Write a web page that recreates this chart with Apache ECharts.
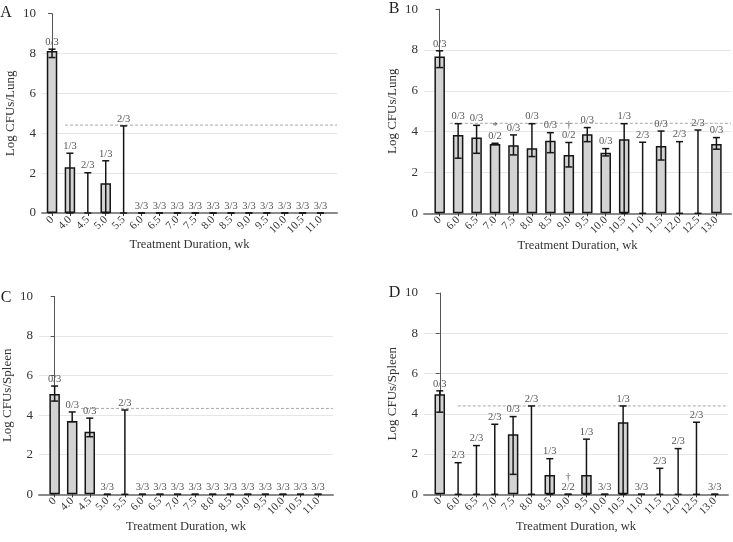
<!DOCTYPE html>
<html>
<head>
<meta charset="utf-8">
<script src="https://cdn.jsdelivr.net/npm/echarts@6/dist/echarts.min.js"></script>
<style>
	html, body { margin: 0; padding: 0; background: #fff; }
	#chart { width: 733px; height: 542px; }
</style>
</head>
<body>
<div id="chart"></div>
<script>
// panel A / C categories (weeks)
var catsA = ['0', '4.0', '4.5', '5.0', '5.5', '6.0', '6.5', '7.0', '7.5', '8.0', '8.5', '9.0', '9.5', '10.0', '10.5', '11.0'];
// panel B / D categories
var catsB = ['0', '6.0', '6.5', '7.0', '7.5', '8.0', '8.5', '9.0', '9.5', '10.0', '10.5', '11.0', '11.5', '12.0', '12.5', '13.0'];

// A: lung
var meanA = [8.13, 2.29, 0, 1.49, 0, 0, 0, 0, 0, 0, 0, 0, 0, 0, 0, 0];
var lowA = [7.80, 0, 0, 0, 0, 0, 0, 0, 0, 0, 0, 0, 0, 0, 0, 0];
var highA = [8.22, 3.00, 2.02, 2.62, 4.37, 0, 0, 0, 0, 0, 0, 0, 0, 0, 0, 0];
var fracA = ['0/3', '1/3', '2/3', '1/3', '2/3', '3/3', '3/3', '3/3', '3/3', '3/3', '3/3', '3/3', '3/3', '3/3', '3/3', '3/3'];
var markA = ['', '', '', '', '', '', '', '', '', '', '', '', '', '', '', ''];

// B: lung
var meanB = [7.68, 3.84, 3.71, 3.40, 3.33, 3.19, 3.56, 2.86, 3.87, 2.97, 3.63, 0, 3.30, 0, 0, 3.40];
var lowB = [7.14, 2.70, 2.94, 3.37, 2.86, 2.78, 2.97, 2.27, 3.51, 2.81, 0, 0, 2.61, 0, 0, 3.14];
var highB = [7.96, 4.39, 4.31, 3.43, 3.84, 4.39, 3.95, 3.47, 4.20, 3.17, 4.39, 3.48, 4.03, 3.51, 4.08, 3.71];
var fracB = ['0/3', '0/3', '0/3', '0/2', '0/3', '0/3', '0/3', '0/2', '0/3', '0/3', '1/3', '2/3', '0/3', '2/3', '2/3', '0/3'];
var markB = ['', '', '', '*', '', '', '', '\u2020', '', '', '', '', '', '', '', ''];

// C: spleen
var meanC = [5.07, 3.70, 3.16, 0, 0, 0, 0, 0, 0, 0, 0, 0, 0, 0, 0, 0];
var lowC = [4.71, 3.67, 2.91, 0, 0, 0, 0, 0, 0, 0, 0, 0, 0, 0, 0, 0];
var highC = [5.47, 4.16, 3.85, 0, 4.26, 0, 0, 0, 0, 0, 0, 0, 0, 0, 0, 0];
var fracC = ['0/3', '0/3', '0/3', '3/3', '2/3', '3/3', '3/3', '3/3', '3/3', '3/3', '3/3', '3/3', '3/3', '3/3', '3/3', '3/3'];
var markC = ['', '', '', '', '', '', '', '', '', '', '', '', '', '', '', ''];

// D: spleen
var meanD = [4.97, 0, 0, 0, 2.98, 0, 0.96, 0, 0.96, 0, 3.58, 0, 0, 0, 0, 0];
var lowD = [4.08, 0, 0, 0, 0.99, 0, 0, 0, 0, 0, 0, 0, 0, 0, 0, 0];
var highD = [5.14, 1.57, 2.42, 3.48, 3.86, 4.39, 1.77, 0, 2.74, 0, 4.39, 0, 1.29, 2.27, 3.58, 0];
var fracD = ['0/3', '2/3', '2/3', '2/3', '0/3', '2/3', '1/3', '2/2', '1/3', '3/3', '1/3', '3/3', '2/3', '2/3', '2/3', '3/3'];
var markD = ['', '', '', '', '', '', '', '\u2020', '', '', '', '', '', '', '', ''];

// limit of detection (dashed line) per panel, and where it starts (category index)
var lodValue = [4.41, 4.41, 4.34, 4.39];
var lodStart = [0.73, 0.55, 1.5, 0.98];

var FONT = '"Liberation Serif", "DejaVu Serif", serif';

var panels = [
	{ letter: 'A', cats: catsA, mean: meanA, low: lowA, high: highA, frac: fracA, mark: markA, yName: 'Log CFUs/Lung',
		grid: { left: 42, top: 13.7, width: 295, height: 199.3 }, xMin: -0.56, xMax: 15.92, letterPos: [6, 13] },
	{ letter: 'B', cats: catsB, mean: meanB, low: lowB, high: highB, frac: fracB, mark: markB, yName: 'Log CFUs/Lung',
		grid: { left: 424, top: 9.2, width: 307, height: 204.1 }, xMin: -0.85, xMax: 15.79, letterPos: [394, 9] },
	{ letter: 'C', cats: catsA, mean: meanC, low: lowC, high: highC, frac: fracC, mark: markC, yName: 'Log CFUs/Spleen',
		grid: { left: 36, top: 296.4, width: 297, height: 197.9 }, xMin: -0.89, xMax: 15.85, letterPos: [6, 297.5] },
	{ letter: 'D', cats: catsB, mean: meanD, low: lowD, high: highD, frac: fracD, mark: markD, yName: 'Log CFUs/Spleen',
		grid: { left: 424, top: 293, width: 304, height: 201.3 }, xMin: -0.86, xMax: 15.72, letterPos: [394.5, 293] }
];

function indexList(n) {
	var out = [];
	for (var i = 0; i < n; i++) out.push(i);
	return out;
}

function makeErrorRender() {
	return function(params, api) {
		var x = api.value(0);
		var pLo = api.coord([x, api.value(1)]);
		var pHi = api.coord([x, api.value(2)]);
		var w = 3.5;
		var st = { stroke: '#151515', lineWidth: 1.5 };
		return { type: 'group', children: [
			{ type: 'line', shape: { x1: pLo[0], y1: pLo[1], x2: pHi[0], y2: pHi[1] }, style: st },
			{ type: 'line', shape: { x1: pHi[0] - w, y1: pHi[1], x2: pHi[0] + w, y2: pHi[1] }, style: st },
			{ type: 'line', shape: { x1: pLo[0] - w, y1: pLo[1], x2: pLo[0] + w, y2: pLo[1] }, style: st }
		] };
	};
}

function makeLabelRender(p) {
	return function(params, api) {
		var i = params.dataIndex;
		var pt = api.coord([api.value(0), api.value(1)]);
		var kids = [{ type: 'text', x: pt[0], y: pt[1] - 7, style: { text: p.frac[i], fill: '#555', font: '10.5px ' + FONT, textAlign: 'center', textVerticalAlign: 'middle' } }];
		if (p.mark[i]) {
			kids.push({ type: 'text', x: pt[0], y: pt[1] - 17, style: { text: p.mark[i], fill: '#555', font: '10.5px ' + FONT, textAlign: 'center', textVerticalAlign: 'middle' } });
		}
		return { type: 'group', children: kids };
	};
}

var option = { animation: false, backgroundColor: '#fff', grid: [], xAxis: [], yAxis: [], series: [], graphic: [] };

panels.forEach(function(p, k) {
	var idx = indexList(p.cats.length);
	option.grid.push({ left: p.grid.left, top: p.grid.top, width: p.grid.width, height: p.grid.height, containLabel: false });
	option.xAxis.push({
		type: 'value', gridIndex: k, min: p.xMin, max: p.xMax,
		name: 'Treatment Duration, wk', nameLocation: 'middle', nameGap: 22,
		nameTextStyle: { fontFamily: FONT, fontSize: 12.5, color: '#333' },
		axisLine: { show: true, lineStyle: { color: '#8a8a8a', width: 2 } },
		axisTick: { show: true, customValues: idx, length: 3, lineStyle: { color: '#333', width: 1 } },
		axisLabel: { customValues: idx, rotate: 45, margin: 5, fontFamily: FONT, fontSize: 11, color: '#333',
			formatter: function(v) { return p.cats[Math.round(v)]; } },
		splitLine: { show: false }
	});
	option.yAxis.push({
		type: 'value', gridIndex: k, min: 0, max: 10, interval: 2,
		name: p.yName, nameLocation: 'middle', nameGap: 25,
		nameTextStyle: { fontFamily: FONT, fontSize: 13, color: '#333' },
		axisLine: { show: true, lineStyle: { color: '#555', width: 1 } },
		axisTick: { show: true, length: 4, lineStyle: { color: '#555' } },
		axisLabel: { fontFamily: FONT, fontSize: 13, color: '#333', margin: 6 },
		splitLine: { show: true, showMinLine: false, showMaxLine: false, lineStyle: { color: '#e6e6e6', width: 1 } }
	});

	var barData = [];
	var errData = [];
	var labData = [];
	idx.forEach(function(i) {
		if (p.mean[i] > 0) barData.push([i, p.mean[i]]);
		errData.push([i, p.low[i], p.high[i]]);
		labData.push([i, p.high[i]]);
	});

	option.series.push({
		type: 'line', xAxisIndex: k, yAxisIndex: k, silent: true, symbol: 'none', z: 1,
		data: [[lodStart[k], lodValue[k]], [p.xMax, lodValue[k]]],
		lineStyle: { color: '#a8a8a8', width: 1, type: [3, 2] }
	});
	option.series.push({
		type: 'bar', xAxisIndex: k, yAxisIndex: k, barWidth: 10.5, z: 2, data: barData,
		itemStyle: { color: '#d3d3d3', borderColor: '#151515', borderWidth: 1.5 }
	});
	option.series.push({ type: 'custom', xAxisIndex: k, yAxisIndex: k, z: 3, data: errData, renderItem: makeErrorRender() });
	option.series.push({ type: 'custom', xAxisIndex: k, yAxisIndex: k, z: 4, data: labData, renderItem: makeLabelRender(p) });

	option.graphic.push({ type: 'text', x: p.letterPos[0], y: p.letterPos[1],
		style: { text: p.letter, font: '16px ' + FONT, fill: '#222', textAlign: 'center', textVerticalAlign: 'middle' } });
});

var chart = echarts.init(document.getElementById('chart'), null, { renderer: 'canvas' });
chart.setOption(option);
</script>
</body>
</html>
